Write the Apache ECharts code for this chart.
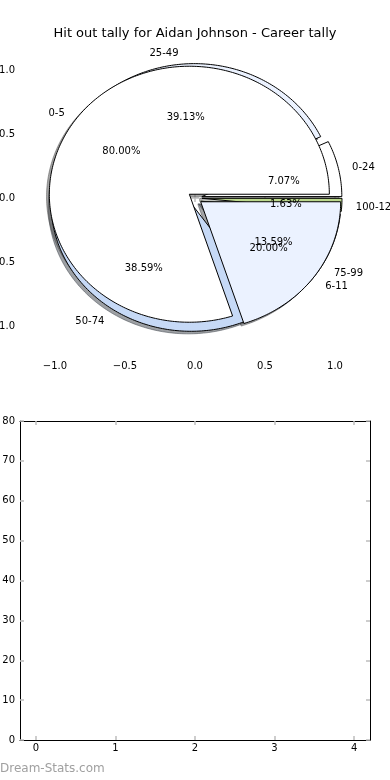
<!DOCTYPE html>
<html><head><meta charset="utf-8">
<script src="https://cdn.jsdelivr.net/npm/echarts@6/dist/echarts.min.js"></script>
<style>html,body{margin:0;padding:0;background:#fff}#c{width:390px;height:780px}</style>
</head><body><div id="c"></div>
<script>
const titleText = 'Hit out tally for Aidan Johnson - Career tally';
const bandLabels = ['0-24', '25-49', '50-74', '75-99', '100-124'];
const bandCounts = [13, 72, 71, 25, 3];
const gapLabels = ['0-5', '6-11'];
const gapCounts = [4, 1];
const pieXTicks = [-1, -0.5, 0, 0.5, 1];
const pieYTicks = [-1, -0.5, 0, 0.5, 1];
const emptyXTicks = [0, 1, 2, 3, 4];
const sliceColors = ['#ffffff', '#ebf2ff', '#c6d9f6', '#a8c4ee', '#bcd98c'];

const EXPLODE = 0.05, LABEL_D = 1.1, PCT_D = 0.6, SH = -0.02;
const FONT = 'DejaVu Sans';
const pies = [
  {labels: bandLabels, counts: bandCounts},
  {labels: gapLabels, counts: gapCounts}
];
function geom(p, i) {
  const c = pies[p].counts;
  const total = c.reduce((a, b) => a + b, 0);
  let before = 0;
  for (let k = 0; k < i; k++) before += c[k];
  const f1 = before / total, f2 = (before + c[i]) / total;
  const t1 = 2 * Math.PI * f1, t2 = 2 * Math.PI * f2, tm = (t1 + t2) / 2;
  return {t1, t2, tm, cx: EXPLODE * Math.cos(tm), cy: EXPLODE * Math.sin(tm), frac: c[i] / total};
}
function wedgePts(api, g, off) {
  const pts = [api.coord([g.cx + off, g.cy + off])];
  const n = Math.max(4, Math.ceil((g.t2 - g.t1) / (Math.PI / 180)));
  for (let k = 0; k <= n; k++) {
    const t = g.t1 + (g.t2 - g.t1) * k / n;
    pts.push(api.coord([g.cx + Math.cos(t) + off, g.cy + Math.sin(t) + off]));
  }
  return pts;
}
function shade(hex) {
  const r = parseInt(hex.substr(1, 2), 16), gg = parseInt(hex.substr(3, 2), 16), b = parseInt(hex.substr(5, 2), 16);
  return 'rgba(' + Math.round(r * 0.3) + ',' + Math.round(gg * 0.3) + ',' + Math.round(b * 0.3) + ',0.5)';
}
const sliceData = [];
pies.forEach((pie, p) => pie.counts.forEach((v, i) => sliceData.push([p, i])));

const fmtMinus = v => (v < 0 ? '\u2212' : '') + Math.abs(v).toFixed(1);
const tickStyle = {show: true, inside: true, length: 4, lineStyle: {color: '#bdbdbd', width: 1.5}};
const lbl = {fontFamily: FONT, fontSize: 10, color: '#000'};

const chart = echarts.init(document.getElementById('c'));
chart.setOption({
  animation: false,
  backgroundColor: '#fff',
  title: {text: titleText, left: 'center', top: 22, textStyle: {fontFamily: FONT, fontSize: 13, fontWeight: 'normal', color: '#000'}},
  graphic: [{type: 'text', left: 0, top: 763, style: {text: 'Dream-Stats.com', fill: '#a0a0a0', font: '12px "DejaVu Sans"'}}],
  grid: [
    {left: 20, top: 38, width: 350, height: 320, containLabel: false, outerBoundsMode: 'none'},
    {left: 20, top: 421, width: 350, height: 319, containLabel: false, outerBoundsMode: 'none'}
  ],
  xAxis: [
    {gridIndex: 0, type: 'value', min: -1.25, max: 1.25, position: 'bottom', axisLine: {show: false},
     axisTick: Object.assign({customValues: pieXTicks}, tickStyle), splitLine: {show: false},
     axisLabel: Object.assign({customValues: pieXTicks, formatter: fmtMinus, margin: 3}, lbl)},
    {gridIndex: 0, type: 'value', min: -1.25, max: 1.25, position: 'top', axisLine: {show: false},
     axisTick: Object.assign({customValues: pieXTicks}, tickStyle), splitLine: {show: false}, axisLabel: {show: false}},
    {gridIndex: 1, type: 'value', min: -0.2, max: 4.2, position: 'bottom', axisLine: {show: true, onZero: false, lineStyle: {color: '#000', width: 1}},
     axisTick: Object.assign({customValues: emptyXTicks}, tickStyle), splitLine: {show: false},
     axisLabel: Object.assign({customValues: emptyXTicks, margin: 3}, lbl)},
    {gridIndex: 1, type: 'value', min: -0.2, max: 4.2, position: 'top', axisLine: {show: true, onZero: false, lineStyle: {color: '#000', width: 1}},
     axisTick: Object.assign({customValues: emptyXTicks}, tickStyle), splitLine: {show: false}, axisLabel: {show: false}}
  ],
  yAxis: [
    {gridIndex: 0, type: 'value', min: -1.25, max: 1.25, position: 'left', axisLine: {show: false},
     axisTick: Object.assign({customValues: pieYTicks}, tickStyle), splitLine: {show: false},
     axisLabel: Object.assign({customValues: pieYTicks, formatter: fmtMinus, margin: 5}, lbl)},
    {gridIndex: 0, type: 'value', min: -1.25, max: 1.25, position: 'right', axisLine: {show: false},
     axisTick: Object.assign({customValues: pieYTicks}, tickStyle), splitLine: {show: false}, axisLabel: {show: false}},
    {gridIndex: 1, type: 'value', min: 0, max: 80, interval: 10, position: 'left', axisLine: {show: true, onZero: false, lineStyle: {color: '#000', width: 1}},
     axisTick: tickStyle, splitLine: {show: false}, axisLabel: Object.assign({margin: 5}, lbl)},
    {gridIndex: 1, type: 'value', min: 0, max: 80, interval: 10, position: 'right', axisLine: {show: true, onZero: false, lineStyle: {color: '#000', width: 1}},
     axisTick: tickStyle, splitLine: {show: false}, axisLabel: {show: false}}
  ],
  series: [
    {type: 'custom', name: 'shadows', xAxisIndex: 0, yAxisIndex: 0, clip: false, data: sliceData,
     renderItem: (params, api) => {
       const p = api.value(0), i = api.value(1), g = geom(p, i);
       const col = shade(sliceColors[i % sliceColors.length]);
       return {type: 'polygon', shape: {points: wedgePts(api, g, SH)}, style: {fill: col, stroke: col, lineWidth: 1}};
     }},
    {type: 'custom', name: 'wedges', xAxisIndex: 0, yAxisIndex: 0, clip: false, data: sliceData,
     renderItem: (params, api) => {
       const p = api.value(0), i = api.value(1), g = geom(p, i);
       return {type: 'polygon', shape: {points: wedgePts(api, g, 0)}, style: {fill: sliceColors[i % sliceColors.length], stroke: '#000', lineWidth: 1}};
     }},
    {type: 'custom', name: 'labels', xAxisIndex: 0, yAxisIndex: 0, clip: false, data: sliceData,
     renderItem: (params, api) => {
       const p = api.value(0), i = api.value(1), g = geom(p, i);
       const xt = g.cx + LABEL_D * Math.cos(g.tm), yt = g.cy + LABEL_D * Math.sin(g.tm);
       const xp = g.cx + PCT_D * Math.cos(g.tm), yp = g.cy + PCT_D * Math.sin(g.tm);
       const a = api.coord([xt, yt]), b = api.coord([xp, yp]);
       return {type: 'group', children: [
         {type: 'text', x: a[0], y: a[1] + 1.5, style: {text: pies[p].labels[i], fill: '#000', font: '10px "DejaVu Sans"', align: xt > 0 ? 'left' : 'right', verticalAlign: 'middle'}},
         {type: 'text', x: b[0], y: b[1] + 2, style: {text: (g.frac * 100).toFixed(2) + '%', fill: '#000', font: '10px "DejaVu Sans"', align: 'center', verticalAlign: 'middle'}}
       ]};
     }},
    {type: 'scatter', xAxisIndex: 2, yAxisIndex: 2, data: []}
  ]
});
</script></body></html>
